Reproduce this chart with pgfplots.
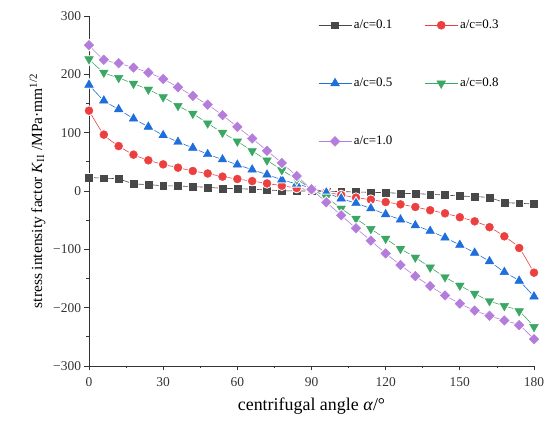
\documentclass[border=0pt]{standalone}
\usepackage{fontspec}
\setmainfont{Liberation Serif}
\usepackage{pgfplots}
\pgfplotsset{compat=1.18}
\usepackage{pgfplotstable}

\definecolor{cA}{RGB}{72,72,72}
\definecolor{cB}{RGB}{236,64,64}
\definecolor{cC}{RGB}{30,110,220}
\definecolor{cD}{RGB}{58,168,100}
\definecolor{cE}{RGB}{180,125,220}

% angle, K_II for a/c = 0.1, 0.3, 0.5, 0.8, 1.0
\pgfplotstableread{
ang  k01    k03    k05    k08    k10
0    23     137.7  182    226    250
6    22     96.6   155    203    225
12   20.5   77     140    194    219
18   12.5   62.3   124    184    211.5
24   11     52.6   110    174    203
30   9      45.7   95.5   161    192
36   8.5    40     84     146    178
42   7.5    34.3   74     132.6  163
48   6.3    30     63     116    148
54   4.6    24.6   54     100    130
60   4      20.6   45     85     110
66   3      17     36.6   68.6   90
72   1.7    13     28     52.6   69
78   0.5    9      19.4   36     48
84   0      5      12     20     25.7
90   0      1.7    5      4      3
96   -0.5   -2.3   -2.9   -11    -19.4
102  -1     -6.9   -13    -30    -41.7
108  -1.7   -11.4  -21    -47.4  -64
114  -2.3   -14.9  -30    -65    -85
120  -2.9   -18.9  -40    -81.7  -107
126  -4     -22.9  -49    -99    -127
132  -4.6   -27.4  -59    -114   -146
138  -5.7   -33    -68.6  -131   -163
144  -6.9   -38.3  -80    -147.5 -179
150  -8.6   -45    -92.6  -162   -193
156  -9.7   -52    -106   -176   -205
162  -11.4  -62    -120.6 -188.6 -214
168  -19.4  -77.7  -139   -197   -222
174  -21    -97.7  -154   -206   -230
180  -22.3  -140   -181   -233   -254
}\datatab

% #1 column, #2 colour, #3 mark, #4 mark size, #5 mark rotation
% line, white gap round the symbols, symbols
\newcommand{\series}[5]{%
  \addplot[#2, line width=0.6bp, smooth, tension=0.4, no markers, forget plot]
    table[x=ang, y=#1] {\datatab};
  \addplot[only marks, mark=#3, mark size=#4, mark options={rotate=#5, draw=white, fill=white, line width=2.4bp}, forget plot]
    table[x=ang, y=#1] {\datatab};
  \addplot[only marks, mark=#3, mark size=#4, mark options={rotate=#5, draw=#2, fill=#2, line width=0.4bp}, forget plot]
    table[x=ang, y=#1] {\datatab};
}

\begin{document}
\begin{tikzpicture}
\begin{axis}[
    name=ax,
    scale only axis,
    width=445bp, height=350bp,
    xmin=0, xmax=180, ymin=-300, ymax=300,
    xtick={0,30,...,180},
    ytick={-300,-200,...,300},
    yticklabels={−300,−200,−100,0,100,200,300},
    minor x tick num=1, minor y tick num=1,
    tick align=outside,
    major tick length=4.5bp, minor tick length=2.5bp,
    axis lines*=left,
    axis line style={color=black!80, line width=0.8bp},
    every tick/.style={color=black!80, line width=0.8bp},
    tick label style={font=\fontsize{13.5}{15}\selectfont, color=black!80},
    /pgf/number format/assume math mode=true,
    xticklabel style={yshift=-4bp},
    xlabel={centrifugal angle \textit{α}/°},
    ylabel={stress intensity factor \textit{K}\textsubscript{II} /MPa·mm\textsuperscript{1/2}},
    xlabel style={font=\fontsize{18}{20}\selectfont, yshift=-4bp},
    ylabel style={font=\fontsize{15.5}{18}\selectfont, yshift=1bp},
    legend columns=2,
    legend cell align=left,
    legend style={
        at={(rel axis cs:0.508,1.0)}, anchor=north west,
        draw=none, fill=none,
        font=\fontsize{13}{15}\selectfont,
        row sep=44bp,
        /tikz/every even column/.append style={column sep=30bp},
    },
    legend image code/.code={
        \draw[mark repeat=2, mark phase=2, line width=0.6bp]
            plot coordinates {(0bp,0bp) (16.5bp,0bp) (33bp,0bp)};
    },
]
\addlegendimage{cA, mark=square*, mark size=3.4bp}
\addlegendentry{a/c=0.1}
\addlegendimage{cB, mark=*, mark size=4bp}
\addlegendentry{a/c=0.3}
\addlegendimage{cC, mark=triangle*, mark size=5bp}
\addlegendentry{a/c=0.5}
\addlegendimage{cD, mark=triangle*, mark size=5bp, mark options={rotate=180}}
\addlegendentry{a/c=0.8}
\addlegendimage{cE, mark=square*, mark size=3.4bp, mark options={rotate=45}}
\addlegendentry{a/c=1.0}

\series{k01}{cA}{square*}{3.4bp}{0}
\series{k03}{cB}{*}{4bp}{0}
\series{k05}{cC}{triangle*}{5bp}{0}
\series{k08}{cD}{triangle*}{5bp}{180}
\series{k10}{cE}{square*}{3.4bp}{45}
\end{axis}
\pgfresetboundingbox
\useasboundingbox ([shift={(-89bp,-57bp)}]ax.south west) rectangle ([shift={(19bp,16bp)}]ax.north east);
\end{tikzpicture}
\end{document}
